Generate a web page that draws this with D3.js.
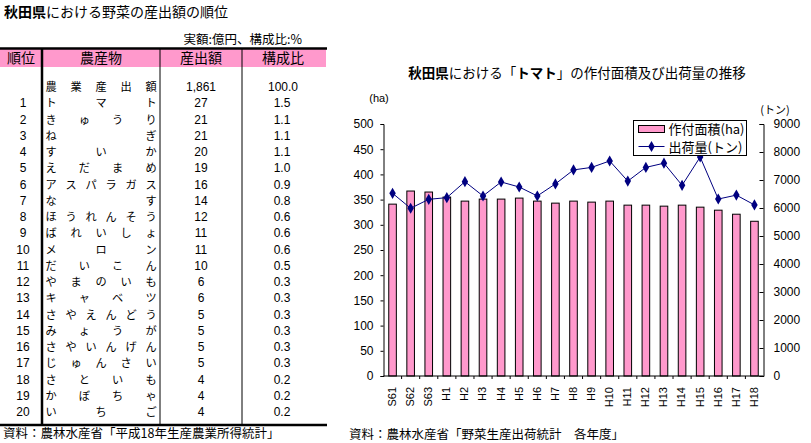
<!DOCTYPE html>
<html>
<head>
<meta charset="utf-8">
<script src="https://d3js.org/d3.v7.min.js"></script>
<style>
  body { margin: 0; background: #fff; }
  svg { font-family: "Liberation Sans", "Noto Sans CJK JP", sans-serif; }
  .jp { font-family: "Noto Sans CJK JP", sans-serif; }
</style>
</head>
<body>
<svg id="chart" width="811" height="443"></svg>
<script>
  // table data
  var ranks  = [1,2,3,4,5,6,7,8,9,10,11,12,13,14,15,16,17,18,19,20]
  var crops  = ["トマト","きゅうり","ねぎ","すいか","えだまめ","アスパラガス","なす","ほうれんそう","ばれいしょ","メロン",
                "だいこん","やまのいも","キャベツ","さやえんどう","みょうが","さやいんげん","じゅんさい","さといも","かぼちゃ","いちご"]
  var output = ["27","21","21","20","19","16","14","12","11","11","10","6","6","5","5","5","5","4","4","4"]
  var shares = ["1.5","1.1","1.1","1.1","1.0","0.9","0.8","0.6","0.6","0.6","0.5","0.3","0.3","0.3","0.3","0.3","0.3","0.2","0.2","0.2"]
  var totalRow = ["農業産出額", "1,861", "100.0"]
  var headers = ["順位", "農産物", "産出額", "構成比"]

  // chart data
  var years = ["S61","S62","S63","H1","H2","H3","H4","H5","H6","H7","H8","H9","H10","H11","H12","H13","H14","H15","H16","H17","H18"]
  var area  = [341,367,365,355,347,351,351,353,347,343,347,345,347,339,339,337,339,335,329,321,307]
  var ship  = [6525,5990,6310,6370,6940,6430,6930,6750,6430,6860,7360,7450,7680,6960,7450,7600,6810,7820,6320,6460,6110]
  var leftTicks  = [0,50,100,150,200,250,300,350,400,450,500]
  var rightTicks = [0,1000,2000,3000,4000,5000,6000,7000,8000,9000]

  var svg = d3.select('#chart')

  // ---------- left: table ----------
  var tbl = svg.append('g')

  tbl.append('text').attr('class', 'jp')
    .attr('x', 4).attr('y', 17).attr('font-size', 14)
    .call(function(t) {
      t.append('tspan').attr('font-weight', 'bold').text('秋田県')
      t.append('tspan').text('における野菜の産出額の順位')
    })

  tbl.append('text').attr('class', 'jp')
    .attr('x', 302).attr('y', 44).attr('font-size', 12.5).attr('text-anchor', 'end')
    .text('実額:億円、構成比:%')

  var colX = [42, 160, 242]
  var colMid = [21, 101, 201, 283]
  var tblTop = 49, headBottom = 67, tblBottom = 425
  var rowY = d3.scaleLinear().domain([0, 20]).range([86, 86 + 20 * 16.25])

  tbl.append('rect').attr('x', 0).attr('y', tblTop).attr('width', 326).attr('height', headBottom - tblTop)
    .attr('fill', '#ff99cc')
  tbl.append('line').attr('x1', 0).attr('x2', 327).attr('y1', tblTop - 0.5).attr('y2', tblTop - 0.5)
    .attr('stroke', '#000').attr('stroke-width', 2.5)
  tbl.append('line').attr('x1', 0).attr('x2', 327).attr('y1', tblBottom).attr('y2', tblBottom)
    .attr('stroke', '#000').attr('stroke-width', 2.5)
  colX.forEach(function(x, i) {
    tbl.append('line').attr('x1', x).attr('x2', x).attr('y1', tblTop).attr('y2', tblBottom)
      .attr('stroke', '#000').attr('stroke-width', i === 0 ? 2.5 : 1)
  })

  tbl.selectAll('text.head').data(headers).enter().append('text')
    .attr('class', 'head jp')
    .attr('x', function(d, i) { return colMid[i] })
    .attr('y', 63).attr('font-size', 14).attr('text-anchor', 'middle')
    .text(function(d) { return d })

  // spread characters across the crop column
  function spread(g, str, y) {
    var chars = Array.from(str)
    var n = chars.length
    var x0 = 51, x1 = 151
    chars.forEach(function(c, i) {
      g.append('text').attr('class', 'jp')
        .attr('x', n === 1 ? x0 : x0 + i * (x1 - x0) / (n - 1))
        .attr('y', y).attr('font-size', 11.2).attr('text-anchor', 'middle')
        .text(c)
    })
  }

  spread(tbl, totalRow[0], rowY(0) + 5)
  tbl.append('text').attr('x', colMid[2]).attr('y', rowY(0) + 5).attr('font-size', 12)
    .attr('text-anchor', 'middle').text(totalRow[1])
  tbl.append('text').attr('x', colMid[3]).attr('y', rowY(0) + 5).attr('font-size', 12)
    .attr('text-anchor', 'middle').text(totalRow[2])

  ranks.forEach(function(r, i) {
    var y = rowY(i + 1) + 5
    tbl.append('text').attr('x', 23).attr('y', y).attr('font-size', 12)
      .attr('text-anchor', 'middle').text(r)
    spread(tbl, crops[i], y)
    tbl.append('text').attr('x', colMid[2]).attr('y', y).attr('font-size', 12)
      .attr('text-anchor', 'middle').text(output[i])
    tbl.append('text').attr('x', colMid[3] - 1).attr('y', y).attr('font-size', 12)
      .attr('text-anchor', 'middle').text(shares[i])
  })

  tbl.append('text').attr('class', 'jp')
    .attr('x', 3).attr('y', 438).attr('font-size', 12.5)
    .text('資料：農林水産省「平成18年生産農業所得統計」')

  // ---------- right: chart ----------
  var plotL = 383.5, plotR = 763.5, plotT = 124, plotB = 376

  var band = d3.scaleBand().domain(years).range([plotL, plotR])
  var yL = d3.scaleLinear().domain([0, 500]).range([plotB, plotT])
  var yR = d3.scaleLinear().domain([0, 9000]).range([plotB, plotT])

  var ch = svg.append('g')

  ch.append('text').attr('class', 'jp')
    .attr('x', 577).attr('y', 78).attr('font-size', 13.5).attr('text-anchor', 'middle')
    .call(function(t) {
      t.append('tspan').attr('font-weight', 'bold').text('秋田県')
      t.append('tspan').text('における「')
      t.append('tspan').attr('font-weight', 'bold').text('トマト')
      t.append('tspan').text('」の作付面積及び出荷量の推移')
    })

  ch.append('text').attr('x', 379).attr('y', 102).attr('font-size', 11).attr('text-anchor', 'middle').text('(ha)')
  ch.append('text').attr('class', 'jp').attr('x', 775).attr('y', 114).attr('font-size', 11)
    .attr('text-anchor', 'middle').text('(トン)')

  // bars
  ch.selectAll('rect.bar').data(years).enter().append('rect')
    .attr('class', 'bar')
    .attr('x', function(d) { return band(d) + band.bandwidth() / 2 - 3.8 })
    .attr('width', 7.6)
    .attr('y', function(d, i) { return yL(area[i]) })
    .attr('height', function(d, i) { return plotB - yL(area[i]) })
    .attr('fill', '#ff99cc').attr('stroke', '#000').attr('stroke-width', 1)

  // axes
  var axL = ch.append('g').attr('transform', 'translate(' + plotL + ',0)')
    .call(d3.axisLeft(yL).tickValues(leftTicks).tickSize(3).tickPadding(7))
  var axR = ch.append('g').attr('transform', 'translate(' + plotR + ',0)')
    .call(d3.axisRight(yR).tickValues(rightTicks).tickFormat(d3.format('d')).tickSize(-4).tickPadding(10))
  ;[axL, axR].forEach(function(a) {
    a.select('.domain').attr('stroke', '#000')
    a.selectAll('text').attr('font-size', 12).attr('font-family', '"Liberation Sans", sans-serif').attr('fill', '#000')
  })

  // x axis with ticks between categories
  ch.append('line').attr('x1', plotL).attr('x2', plotR).attr('y1', plotB).attr('y2', plotB)
    .attr('stroke', '#000')
  years.forEach(function(d, i) {
    if (i > 0) ch.append('line').attr('x1', band(d)).attr('x2', band(d))
      .attr('y1', plotB).attr('y2', plotB + 3).attr('stroke', '#000')
  })
  ch.selectAll('text.xl').data(years).enter().append('text')
    .attr('class', 'xl')
    .attr('transform', function(d) {
      return 'translate(' + (band(d) + band.bandwidth() / 2 + 0.5) + ',387)rotate(-90)'
    })
    .attr('text-anchor', 'end').attr('dominant-baseline', 'middle')
    .attr('font-size', 11)
    .text(function(d) { return d })

  // shipment line
  var line = d3.line()
    .x(function(d, i) { return band(years[i]) + band.bandwidth() / 2 })
    .y(function(d) { return yR(d) })
  ch.append('path').attr('d', line(ship))
    .attr('fill', 'none').attr('stroke', '#000080').attr('stroke-width', 1)
  var diamond = d3.symbol().type(d3.symbolDiamond).size(36)
  ch.selectAll('path.mk').data(ship).enter().append('path')
    .attr('class', 'mk').attr('d', diamond)
    .attr('transform', function(d, i) {
      return 'translate(' + (band(years[i]) + band.bandwidth() / 2) + ',' + yR(d) + ')'
    })
    .attr('fill', '#000080')

  // legend
  var lg = ch.append('g').attr('transform', 'translate(633.5,120.5)')
  lg.append('rect').attr('width', 113).attr('height', 35).attr('fill', '#fff').attr('stroke', '#000')
  lg.append('rect').attr('x', 5).attr('y', 5).attr('width', 26).attr('height', 7)
    .attr('fill', '#ff99cc').attr('stroke', '#000')
  lg.append('text').attr('class', 'jp').attr('x', 35).attr('y', 13.5).attr('font-size', 13).text('作付面積(ha)')
  lg.append('line').attr('x1', 5).attr('x2', 31).attr('y1', 26).attr('y2', 26)
    .attr('stroke', '#000080')
  lg.append('path').attr('d', diamond).attr('transform', 'translate(18,26)').attr('fill', '#000080')
  lg.append('text').attr('class', 'jp').attr('x', 35).attr('y', 31).attr('font-size', 13).text('出荷量(トン)')

  ch.append('text').attr('class', 'jp')
    .attr('x', 349).attr('y', 439).attr('font-size', 12.5)
    .text('資料：農林水産省「野菜生産出荷統計　各年度」')
</script>
</body>
</html>
